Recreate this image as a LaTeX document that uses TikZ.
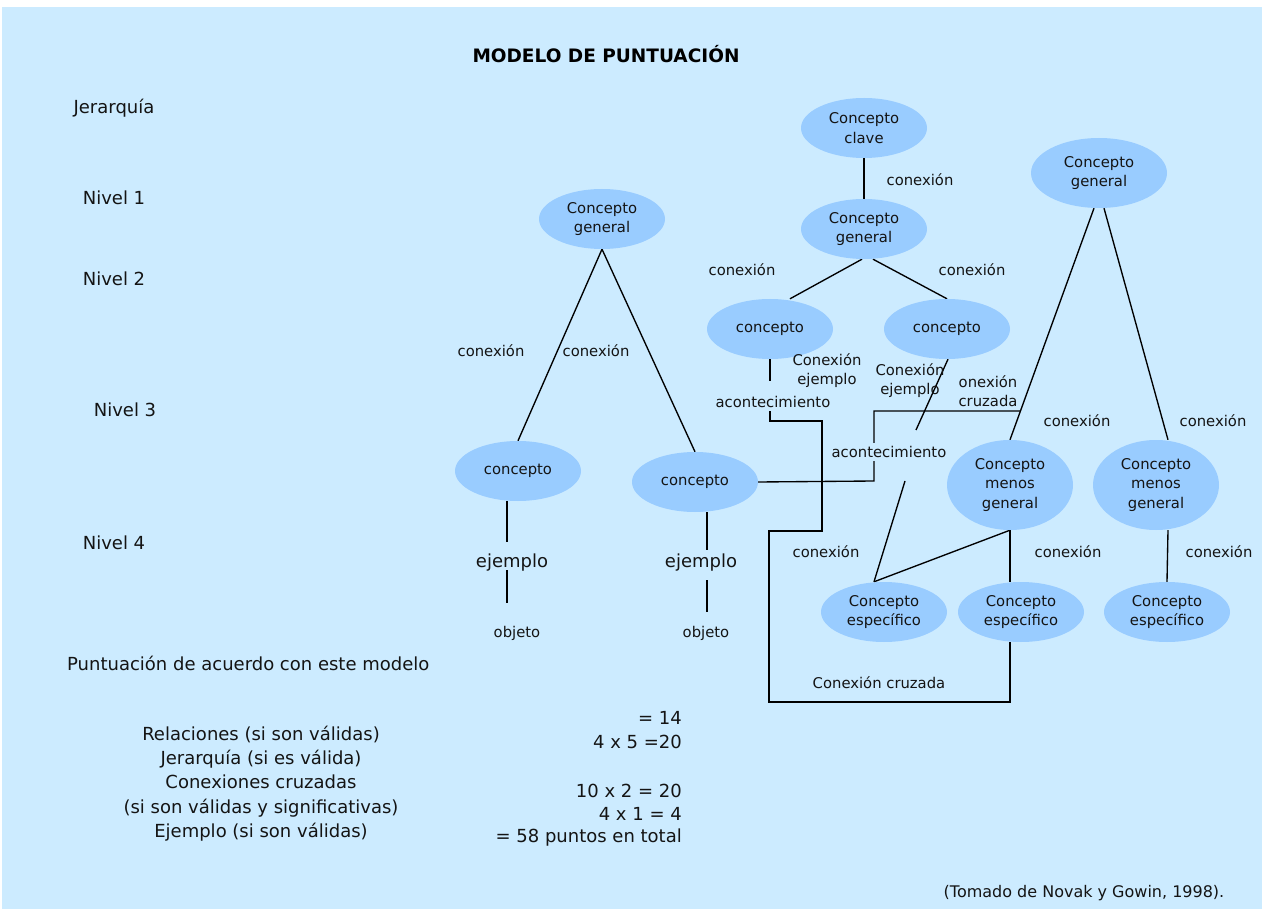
\documentclass[tikz,border=0pt]{standalone}
\usepackage{fontspec}
\setmainfont{DejaVu Sans}
\usetikzlibrary{shapes.geometric}
\definecolor{bgc}{HTML}{CCEBFF}
\definecolor{ellc}{HTML}{99CCFF}
\definecolor{txt}{HTML}{141414}
\pgfdeclarelayer{bgl}
\pgfsetlayers{bgl,main}
\begin{document}
\begin{tikzpicture}[x=1pt,y=-1pt,
  cnode/.style={ellipse, fill=ellc, inner sep=0pt, minimum width=126pt, minimum height=60pt, align=center, text=txt, font=\fontsize{14.8}{19.5}\selectfont},
  lbl/.style={inner sep=1pt, text=txt, font=\fontsize{14.8}{19}\selectfont, align=center},
  big/.style={inner sep=1pt, text=txt, font=\fontsize{18}{24.25}\selectfont, align=center},
  lnk/.style={line width=1.35pt, draw=black},
  thk/.style={line width=2.8pt, draw=black},
  xline/.style={line width=1.8pt, draw=black}
]
\useasboundingbox (0,0) rectangle (1267,909);
\begin{pgfonlayer}{bgl}
\fill[bgc] (2,7) rectangle (1262,909);
\end{pgfonlayer}

% title and left labels
\node[inner sep=1pt, text=black, font=\bfseries\fontsize{18.5}{22}\selectfont] (title) at (606,54) {MODELO DE PUNTUACIÓN};
\node[big] (jer) at (114,108) {Jerarquía};
\node[big] (n1) at (114,198) {Nivel 1};
\node[big] (n2) at (114,279) {Nivel 2};
\node[big] (n3) at (125,410) {Nivel 3};
\node[big] (n4) at (114,543) {Nivel 4};

% concept nodes
\node[cnode] (cg1) at (602,219) {Concepto\\general};
\node[cnode] (c1) at (518,471) {concepto};
\node[cnode] (c2) at (695,482) {concepto};
\node[cnode] (ck) at (864,128) {Concepto\\clave};
\node[cnode] (cg2) at (864,229) {Concepto\\general};
\node[cnode] (cm1) at (770,329) {concepto};
\node[cnode] (cm2) at (947,329) {concepto};
\node[cnode, minimum width=136pt, minimum height=70pt] (cg3) at (1099,173) {Concepto\\general};
\node[cnode, minimum height=90pt] (cmg1) at (1010,485) {Concepto\\menos\\general};
\node[cnode, minimum height=90pt] (cmg2) at (1156,485) {Concepto\\menos\\general};
\node[cnode] (ce1) at (884,612) {Concepto\\específico};
\node[cnode] (ce2) at (1021,612) {Concepto\\específico};
\node[cnode] (ce3) at (1167,612) {Concepto\\específico};

% link labels
\node[lbl] (l1) at (491,351) {conexión};
\node[lbl] (l2) at (596,351) {conexión};
\node[lbl] (l3) at (920,180) {conexión};
\node[lbl] (l4) at (742,270) {conexión};
\node[lbl] (l5) at (972,270) {conexión};
\node[lbl] (l6) at (1077,421) {conexión};
\node[lbl] (l7) at (1213,421) {conexión};
\node[lbl] (l8) at (826,552) {conexión};
\node[lbl] (l9) at (1068,552) {conexión};
\node[lbl] (l10) at (1219,552) {conexión};
\node[lbl] (ce1lbl) at (827,371) {Conexión\\ejemplo};
\node[lbl] (ce2lbl) at (910,381) {Conexión\\ejemplo};
\node[lbl] (cruz) at (988,391) {onexión\\cruzada};
\node[lbl] (ac1) at (773,402) {acontecimiento};
\node[lbl] (ccz) at (879,683) {Conexión cruzada};
\node[lbl, font=\fontsize{18}{22}\selectfont] (ej1) at (512,563) {ejemplo};
\node[lbl, font=\fontsize{18}{22}\selectfont] (ej2) at (701,563) {ejemplo};
\node[lbl] (ob1) at (517,633) {objeto};
\node[lbl] (ob2) at (706,633) {objeto};

% free-end coordinates
\coordinate (a1t) at (770,381);
\coordinate (a1b) at (770,411);
\coordinate (a2t) at (916,430);
\coordinate (a2b) at (905,481);
\coordinate (x2c) at (1020.5,411);
\coordinate (e1a) at (507,542);
\coordinate (e1b) at (507,570);
\coordinate (o1) at (507,603);
\coordinate (e2a) at (707,550);
\coordinate (e2b) at (707,580);
\coordinate (o2) at (707,612);

\begin{pgfonlayer}{bgl}
% left tree
\draw[lnk] (cg1.south) -- (c1.north);
\draw[lnk] (cg1.south) -- (c2.north);
\draw[thk] ([xshift=-11pt]c1.south) -- (e1a);
\draw[thk] (e1b) -- (o1);
\draw[thk] ([xshift=12pt]c2.south) -- (e2a);
\draw[thk] (e2b) -- (o2);
% middle tree
\draw[lnk] (ck.south) -- (cg2.north);
\draw[lnk] ([xshift=-2pt]cg2.south) -- ([xshift=20pt]cm1.north);
\draw[lnk] ([xshift=9pt]cg2.south) -- (cm2.north);
\draw[thk] (cm1.south) -- (a1t);
\draw[lnk] ([xshift=1pt]cm2.south) -- (a2t);
\draw[lnk] (a2b) -- ([xshift=-10pt]ce1.north);
% right tree
\draw[lnk] ([xshift=-5pt]cg3.south) -- (cmg1.north);
\draw[lnk] ([xshift=5pt]cg3.south) -- ([xshift=12pt]cmg2.north);
\draw[lnk] (cmg1.south) -- ([xshift=-10pt]ce1.north);
\draw[lnk] (cmg1.south) -- ([xshift=-11pt]ce2.north);
\draw[lnk] ([xshift=12pt]cmg2.south) -- (ce3.north);
% cross links
\draw[xline] (a1b) -- (770,421) -- (822,421) -- (822,531) -- (769,531) -- (769,702) -- (1010,702) -- ([xshift=-11pt]ce2.south);
\draw[lnk] (c2.east) -- (874,481) -- (874,411) -- (x2c);
\end{pgfonlayer}
\node[lbl, fill=bgc, inner sep=3pt] (ac2) at (889,452) {acontecimiento};

% scoring
\node[big, anchor=west] (punt) at (66,663) {Puntuación de acuerdo con este modelo};
\node[big] (crit) at (261,783.5) {Relaciones (si son válidas)\\Jerarquía (si es válida)\\Conexiones cruzadas\\(si son válidas y significativas)\\Ejemplo (si son válidas)};
\node[big, anchor=east] (s1) at (683,718) {= 14};
\node[big, anchor=east] (s2) at (683,742) {4 x 5 =20};
\node[big, anchor=east] (s3) at (683,791) {10 x 2 = 20};
\node[big, anchor=east] (s4) at (683,814) {4 x 1 = 4};
\node[big, anchor=east] (s5) at (683,838) {= 58 puntos en total};
\node[lbl, font=\fontsize{16}{19}\selectfont] (src) at (1084,893) {(Tomado de Novak y Gowin, 1998).};
\end{tikzpicture}
\end{document}
